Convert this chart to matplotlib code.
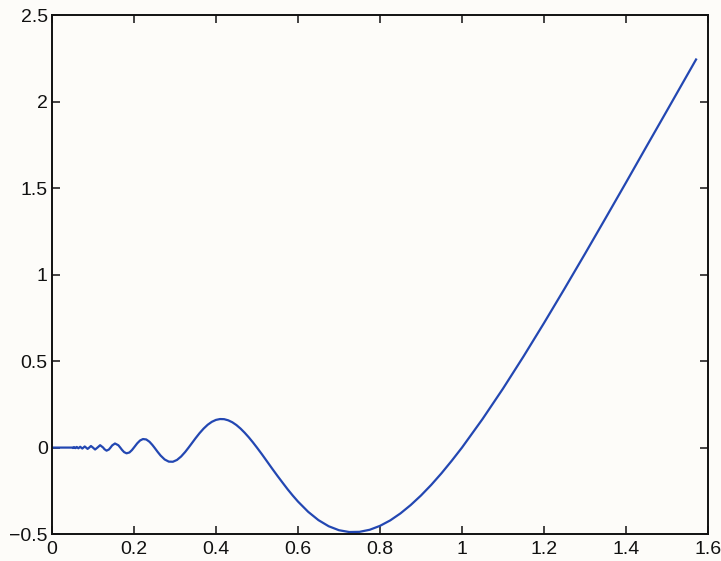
import matplotlib
matplotlib.use("Agg")
import matplotlib.pyplot as plt

# Values
x_vals = [0.0, 0.02, 0.04, 0.05, 0.0513, 0.0526, 0.054, 0.0556, 0.0571, 0.0588, 0.0606,
          0.0625, 0.0645, 0.0667, 0.069, 0.0714, 0.0741, 0.0769, 0.08, 0.0833, 0.087,
          0.0909, 0.0952, 0.1, 0.1053, 0.1111, 0.1176, 0.125, 0.128, 0.1333, 0.139,
          0.1429, 0.147, 0.1538, 0.162, 0.1667, 0.171, 0.176, 0.182, 0.189, 0.195,
          0.2, 0.208, 0.215, 0.222, 0.23, 0.238, 0.245, 0.25, 0.258, 0.265, 0.275,
          0.285, 0.295, 0.305, 0.315, 0.325, 0.3333, 0.34, 0.35, 0.36, 0.37, 0.38,
          0.39, 0.40, 0.41, 0.42, 0.43, 0.44, 0.45, 0.46, 0.47, 0.48, 0.49, 0.50,
          0.5125, 0.525, 0.5375, 0.55, 0.5625, 0.575, 0.5875, 0.60,
          0.625, 0.65, 0.675, 0.70, 0.725, 0.75, 0.775, 0.80, 0.825, 0.85, 0.875, 0.90,
          0.925, 0.95, 0.975, 1.0,
          1.05, 1.10, 1.15, 1.20, 1.25, 1.30, 1.35, 1.40, 1.45, 1.50, 1.5708]
y_vals = [0.0, 0.0, 0.0, 0.0, -0.0026, 0.0, 0.0029, 0.0, -0.0033, 0.0, 0.0037,
          0.0, -0.0042, 0.0, 0.0048, 0.0, -0.0055, 0.0, 0.0064, 0.0, -0.0076,
          0.0, 0.0091, 0.0, -0.0111, 0.0, 0.0138, 0.0, -0.0091, -0.0178, -0.0111,
          0.0, 0.0126, 0.0237, 0.0136, 0.0, -0.0134, -0.0261, -0.0331, -0.0283, -0.0149,
          0.0, 0.0245, 0.0411, 0.0493, 0.0470, 0.0335, 0.0152, 0.0, -0.0253, -0.0459, -0.0688,
          -0.0812, -0.0819, -0.0714, -0.0517, -0.0253, 0.0, 0.0212, 0.0532, 0.0833, 0.1099, 0.1322,
          0.1490, 0.1600, 0.1650, 0.1642, 0.1576, 0.1463, 0.1302, 0.1099, 0.0860, 0.0596, 0.0307, 0.0,
          -0.0398, -0.0813, -0.1229, -0.1635, -0.2028, -0.2416, -0.2778, -0.3118,
          -0.3715, -0.4194, -0.4548, -0.4777, -0.4882, -0.4871, -0.4751, -0.4525, -0.4210, -0.3804, -0.3320, -0.2770,
          -0.2156, -0.1485, -0.0761, 0.0,
          0.1647, 0.3409, 0.5269, 0.72, 0.9184, 1.1206, 1.3257, 1.5324, 1.7411, 1.9486, 2.2436]

x_ticks = [0, 0.2, 0.4, 0.6, 0.8, 1.0, 1.2, 1.4, 1.6]
x_labels = ["0", "0.2", "0.4", "0.6", "0.8", "1", "1.2", "1.4", "1.6"]
y_ticks = [-0.5, 0, 0.5, 1.0, 1.5, 2.0, 2.5]
y_labels = ["\u22120.5", "0", "0.5", "1", "1.5", "2", "2.5"]

plt.rcParams['font.family'] = ['Liberation Sans', 'DejaVu Sans']

bg = '#fdfcf9'
fig = plt.figure(figsize=(7.21, 5.61), dpi=100, facecolor=bg)
ax = fig.add_axes([0.072, 0.048, 0.910, 0.925], facecolor=bg)

ax.plot(x_vals, y_vals, color='#2347b2', linewidth=1.6)

ax.set_xlim(0, 1.6)
ax.set_ylim(-0.5, 2.5)
ax.set_xticks(x_ticks)
ax.set_xticklabels(x_labels)
ax.set_yticks(y_ticks)
ax.set_yticklabels(y_labels)

for s in ax.spines.values():
    s.set_linewidth(1.4)
    s.set_color('#111111')

ax.tick_params(direction='in', length=6, width=1.1, top=True, right=True,
               labelsize=14, colors='#111111')
ax.tick_params(axis='y', pad=3)
ax.tick_params(axis='x', pad=5)

fig.savefig('out.png', dpi=100, facecolor=bg)
